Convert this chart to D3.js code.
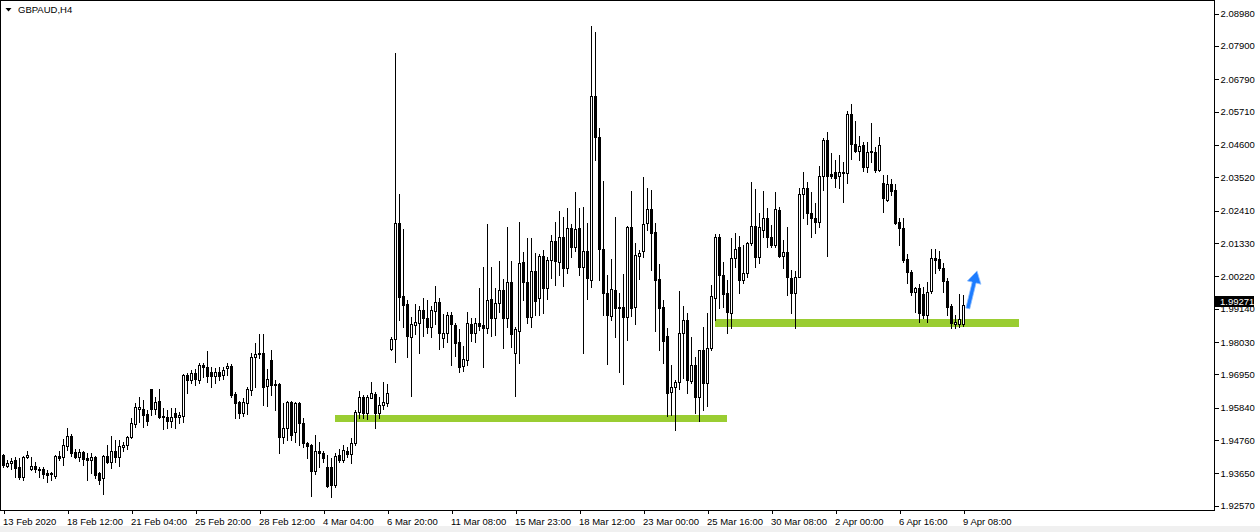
<!DOCTYPE html>
<html>
<head>
<meta charset="utf-8">
<script src="https://cdnjs.cloudflare.com/ajax/libs/d3/7.8.5/d3.min.js"></script>
<style>
  body { margin: 0; background: #fff; }
  svg text { font-family: "Liberation Sans", Arial, sans-serif; }
</style>
</head>
<body>
<div class="canvas"></div>
<script>
// chart title (top left corner)
const symbol = 'GBPAUD,H4';

// H4 candles, one entry per bar
const open = [
  1.9426,1.9390,1.9400,1.9410,1.9386,1.9353,1.9420,1.9380,1.9390,1.9380,
  1.9380,1.9366,1.9366,1.9356,1.9423,1.9420,1.9456,1.9490,1.9436,1.9420,
  1.9436,1.9416,1.9410,1.9420,1.9366,1.9350,1.9423,1.9403,1.9440,1.9420,
  1.9453,1.9460,1.9486,1.9530,1.9580,1.9580,1.9563,1.9646,1.9580,1.9606,
  1.9556,1.9553,1.9540,1.9566,1.9553,1.9556,1.9693,1.9676,1.9700,1.9676,
  1.9726,1.9720,1.9703,1.9690,1.9703,1.9693,1.9716,1.9723,1.9630,1.9603,
  1.9566,1.9600,1.9643,1.9753,1.9766,1.9766,1.9656,1.9743,1.9663,1.9663,
  1.9486,1.9516,1.9603,1.9503,1.9600,1.9533,1.9466,1.9460,1.9373,1.9440,
  1.9433,1.9386,1.9386,1.9326,1.9426,1.9410,1.9440,1.9430,1.9466,1.9570,
  1.9620,1.9566,1.9616,1.9630,1.9566,1.9593,1.9600,1.9780,1.9813,2.0200,
  1.9956,1.9930,1.9820,1.9860,1.9866,1.9910,1.9883,1.9853,1.9906,1.9936,
  1.9816,1.9833,1.9893,1.9860,1.9803,1.9723,1.9743,1.9863,1.9833,1.9866,
  1.9860,1.9850,1.9946,1.9883,1.9933,1.9976,1.9883,2.0003,1.9766,1.9840,
  2.0070,2.0003,1.9886,2.0040,1.9950,2.0090,1.9983,2.0076,2.0140,2.0070,
  2.0153,2.0050,2.0183,2.0120,2.0183,2.0053,2.0106,2.0010,2.0623,2.0486,
  2.0113,1.9966,1.9890,1.9976,1.9920,1.9920,1.9886,2.0186,1.9920,2.0090,
  2.0106,2.0200,2.0246,2.0170,2.0013,1.9920,1.9823,1.9636,1.9653,1.9670,
  1.9833,1.9876,1.9673,1.9726,1.9620,1.9776,1.9666,1.9783,1.9950,2.0153,
  2.0026,1.9966,1.9900,2.0083,2.0120,2.0010,2.0033,2.0133,2.0190,2.0086,
  2.0176,2.0216,2.0153,2.0126,2.0243,2.0090,2.0103,2.0016,1.9966,2.0020,
  2.0296,2.0316,2.0233,2.0216,2.0203,2.0356,2.0476,2.0363,2.0370,2.0356,
  2.0366,2.0366,2.0563,2.0463,2.0440,2.0460,2.0386,2.0436,2.0436,2.0376,
  2.0333,2.0276,2.0330,2.0310,2.0203,2.0183,2.0080,2.0036,1.9970,1.9983,
  1.9963,1.9893,1.9973,2.0083,2.0080,2.0050,2.0006,1.9923,1.9863,1.9863,
  1.9863
];
const high = [
  1.9430,1.9410,1.9416,1.9420,1.9416,1.9423,1.9440,1.9420,1.9403,1.9386,
  1.9386,1.9376,1.9370,1.9426,1.9440,1.9480,1.9516,1.9496,1.9446,1.9446,
  1.9440,1.9433,1.9433,1.9423,1.9370,1.9426,1.9460,1.9490,1.9476,1.9476,
  1.9470,1.9490,1.9550,1.9600,1.9620,1.9610,1.9576,1.9646,1.9620,1.9646,
  1.9583,1.9576,1.9583,1.9583,1.9570,1.9696,1.9700,1.9710,1.9713,1.9733,
  1.9733,1.9773,1.9720,1.9716,1.9720,1.9720,1.9733,1.9730,1.9636,1.9606,
  1.9616,1.9653,1.9766,1.9800,1.9830,1.9830,1.9713,1.9776,1.9676,1.9666,
  1.9600,1.9606,1.9606,1.9603,1.9603,1.9550,1.9470,1.9463,1.9493,1.9470,
  1.9440,1.9426,1.9416,1.9433,1.9446,1.9460,1.9453,1.9483,1.9576,1.9640,
  1.9626,1.9626,1.9670,1.9636,1.9620,1.9670,1.9663,1.9820,2.0766,2.0296,
  2.0180,1.9943,1.9886,1.9930,1.9923,1.9950,1.9943,1.9923,1.9990,1.9950,
  1.9896,1.9903,1.9903,1.9866,1.9846,1.9790,1.9903,1.9883,1.9883,1.9983,
  2.0053,2.0196,2.0053,1.9983,2.0073,2.0013,2.0186,2.0073,1.9853,2.0203,
  2.0103,2.0150,2.0150,2.0100,2.0096,2.0110,2.0086,2.0160,2.0203,2.0240,
  2.0220,2.0250,2.0196,2.0303,2.0250,2.0253,2.0200,2.0856,2.0836,2.0516,
  2.0340,2.0026,2.0080,2.0220,1.9966,2.0030,2.0190,2.0306,2.0133,2.0110,
  2.0353,2.0316,2.0310,2.0200,2.0063,1.9943,1.9850,1.9726,1.9676,1.9973,
  1.9923,1.9900,1.9820,1.9753,1.9776,1.9853,1.9900,1.9993,2.0163,2.0163,
  2.0070,2.0010,2.0150,2.0166,2.0156,2.0126,2.0136,2.0336,2.0313,2.0233,
  2.0306,2.0250,2.0193,2.0303,2.0253,2.0143,2.0186,2.0043,2.0040,2.0316,
  2.0370,2.0336,2.0303,2.0266,2.0390,2.0483,2.0503,2.0433,2.0410,2.0426,
  2.0403,2.0573,2.0596,2.0540,2.0490,2.0470,2.0470,2.0533,2.0453,2.0486,
  2.0360,2.0360,2.0346,2.0330,2.0216,2.0216,2.0096,2.0043,1.9986,1.9996,
  1.9986,2.0003,2.0113,2.0113,2.0106,2.0066,2.0016,1.9930,1.9893,1.9963,
  1.9960
];
const low = [
  1.9386,1.9386,1.9380,1.9353,1.9346,1.9343,1.9416,1.9376,1.9370,1.9353,
  1.9350,1.9336,1.9343,1.9350,1.9410,1.9393,1.9443,1.9423,1.9416,1.9406,
  1.9393,1.9343,1.9366,1.9350,1.9330,1.9296,1.9400,1.9383,1.9403,1.9390,
  1.9440,1.9446,1.9483,1.9520,1.9536,1.9520,1.9526,1.9560,1.9563,1.9550,
  1.9513,1.9516,1.9520,1.9516,1.9533,1.9536,1.9633,1.9666,1.9660,1.9666,
  1.9686,1.9670,1.9653,1.9666,1.9676,1.9680,1.9693,1.9620,1.9550,1.9550,
  1.9556,1.9563,1.9626,1.9653,1.9750,1.9593,1.9590,1.9626,1.9576,1.9433,
  1.9466,1.9476,1.9476,1.9470,1.9460,1.9453,1.9416,1.9290,1.9363,1.9386,
  1.9403,1.9320,1.9286,1.9320,1.9403,1.9403,1.9420,1.9400,1.9460,1.9550,
  1.9550,1.9546,1.9616,1.9516,1.9550,1.9580,1.9590,1.9776,1.9736,1.9876,
  1.9853,1.9753,1.9623,1.9830,1.9766,1.9823,1.9833,1.9820,1.9863,1.9780,
  1.9786,1.9803,1.9726,1.9756,1.9703,1.9706,1.9726,1.9806,1.9803,1.9843,
  1.9720,1.9833,1.9823,1.9826,1.9903,1.9783,1.9853,1.9786,1.9623,1.9733,
  1.9943,1.9866,1.9853,1.9893,1.9893,1.9900,1.9946,2.0016,1.9993,2.0026,
  1.9990,2.0033,2.0086,2.0106,2.0026,1.9766,1.9946,1.9986,2.0410,2.0010,
  1.9893,1.9730,1.9876,1.9820,1.9703,1.9663,1.9810,1.9890,1.9863,2.0013,
  2.0086,2.0176,2.0043,1.9840,1.9776,1.9733,1.9556,1.9560,1.9510,1.9646,
  1.9683,1.9633,1.9666,1.9566,1.9540,1.9576,1.9590,1.9776,1.9876,1.9916,
  1.9920,1.9833,1.9850,2.0053,1.9966,2.0000,2.0020,2.0126,2.0053,2.0066,
  2.0153,2.0120,2.0120,2.0120,2.0086,2.0050,1.9960,1.9900,1.9850,2.0020,
  2.0216,2.0196,2.0153,2.0166,2.0186,2.0310,2.0090,2.0350,2.0320,2.0316,
  2.0270,2.0333,2.0413,2.0436,2.0410,2.0373,2.0370,2.0403,2.0370,2.0373,
  2.0236,2.0273,2.0293,2.0196,2.0126,2.0070,2.0000,1.9960,1.9903,1.9870,
  1.9883,1.9870,1.9966,2.0033,2.0043,1.9970,1.9893,1.9850,1.9850,1.9853,
  1.9856
];
const close = [
  1.9393,1.9400,1.9406,1.9383,1.9353,1.9420,1.9426,1.9390,1.9380,1.9376,
  1.9363,1.9360,1.9363,1.9423,1.9416,1.9460,1.9490,1.9433,1.9420,1.9436,
  1.9413,1.9410,1.9420,1.9360,1.9343,1.9423,1.9403,1.9440,1.9420,1.9456,
  1.9460,1.9486,1.9533,1.9586,1.9586,1.9560,1.9540,1.9580,1.9603,1.9553,
  1.9553,1.9540,1.9553,1.9553,1.9560,1.9693,1.9676,1.9700,1.9680,1.9726,
  1.9720,1.9690,1.9690,1.9703,1.9690,1.9710,1.9723,1.9626,1.9600,1.9566,
  1.9603,1.9646,1.9753,1.9763,1.9763,1.9653,1.9680,1.9660,1.9660,1.9486,
  1.9516,1.9603,1.9493,1.9600,1.9533,1.9466,1.9456,1.9373,1.9440,1.9433,
  1.9416,1.9323,1.9326,1.9423,1.9410,1.9443,1.9430,1.9466,1.9570,1.9620,
  1.9566,1.9620,1.9633,1.9566,1.9593,1.9603,1.9633,1.9813,2.0200,1.9953,
  1.9926,1.9823,1.9863,1.9870,1.9910,1.9883,1.9853,1.9910,1.9936,1.9833,
  1.9833,1.9893,1.9863,1.9800,1.9720,1.9746,1.9866,1.9833,1.9866,1.9856,
  1.9850,1.9943,1.9883,1.9933,1.9976,1.9883,2.0003,1.9830,1.9846,2.0066,
  2.0003,1.9886,2.0040,1.9940,2.0090,1.9983,2.0076,2.0140,2.0073,2.0153,
  2.0050,2.0183,2.0120,2.0180,2.0053,2.0106,2.0016,2.0623,2.0486,2.0113,
  1.9966,1.9893,1.9980,1.9916,1.9916,1.9886,2.0186,1.9916,2.0093,2.0100,
  2.0196,2.0246,2.0166,2.0010,1.9916,1.9806,1.9633,1.9653,1.9670,1.9833,
  1.9876,1.9676,1.9726,1.9620,1.9776,1.9666,1.9783,1.9956,2.0153,2.0026,
  1.9963,1.9903,2.0083,2.0113,2.0010,2.0033,2.0133,2.0190,2.0086,2.0186,
  2.0216,2.0153,2.0126,2.0246,2.0090,2.0103,2.0020,1.9966,2.0020,2.0296,
  2.0316,2.0233,2.0216,2.0203,2.0356,2.0476,2.0356,2.0356,2.0350,2.0370,
  2.0370,2.0563,2.0463,2.0440,2.0456,2.0386,2.0436,2.0438,2.0376,2.0460,
  2.0283,2.0330,2.0306,2.0200,2.0183,2.0076,2.0036,1.9970,1.9983,1.9900,
  1.9893,1.9970,2.0083,2.0076,2.0050,2.0006,1.9920,1.9866,1.9870,1.9880,
  1.99271
];

// time axis: a label every 16 bars
const timeTickBars = [0,16,32,48,64,80,96,112,128,144,160,176,192,208,224,240];
const timeLabels = ['13 Feb 2020','18 Feb 12:00','21 Feb 04:00','25 Feb 20:00','28 Feb 12:00',
  '4 Mar 04:00','6 Mar 20:00','11 Mar 08:00','15 Mar 23:00','18 Mar 12:00','23 Mar 00:00',
  '25 Mar 16:00','30 Mar 08:00','2 Apr 00:00','6 Apr 16:00','9 Apr 08:00'];

// price axis labels
const priceTicks = [2.08980,2.07900,2.06790,2.05710,2.04600,2.03520,2.02410,2.01330,
  2.00220,1.99140,1.98030,1.96950,1.95840,1.94760,1.93650,1.92570];
const lastPrice = 1.99271;

// green support zones (price band + first/last bar)
const zoneTop = [1.9560, 1.9880];
const zoneBottom = [1.9536, 1.9853];
const zoneFrom = [83, 178];
const zoneTo = [181, 254];

// blue arrow: tail and tip (bar index, price)
const arrowTail = [241.2, 1.9915];
const arrowTip = [243.5, 2.0040];

const width = 1260;
const height = 532;
const plotRight = 1214;   // price axis line
const plotBottom = 510;   // time axis line

const svg = d3.select('.canvas')
              .append('svg')
              .attr('width', width)
              .attr('height', height)
              .style('display', 'block');

// scales: one bar every 4px
const x = d3.scaleLinear().domain([0, 240]).range([3, 963]);
const y = d3.scaleLinear().domain([1.9257, 2.0898]).range([505.8, 13.5]);

// grey strip under the chart window
svg.append('rect')
   .attr('x', 0).attr('y', 526)
   .attr('width', width).attr('height', height - 526)
   .attr('fill', '#f0f0f0');

// support zones go under the candles
svg.append('g')
   .selectAll('rect')
   .data(zoneTop)
   .enter()
   .append('rect')
     .attr('x', (d, i) => x(zoneFrom[i]))
     .attr('y', d => Math.round(y(d)))
     .attr('width', (d, i) => x(zoneTo[i]) - x(zoneFrom[i]))
     .attr('height', (d, i) => Math.round(y(zoneBottom[i])) - Math.round(y(d)))
     .attr('fill', '#9acd32');

// candles
const bars = d3.range(open.length);
const candles = svg.append('g').attr('shape-rendering', 'crispEdges');

const py = v => Math.round(y(v));

// wicks
candles.selectAll('.wick')
       .data(bars)
       .enter()
       .append('rect')
         .attr('class', 'wick')
         .attr('x', i => Math.round(x(i)))
         .attr('y', i => py(high[i]))
         .attr('width', 1)
         .attr('height', i => py(low[i]) - py(high[i]) + 1)
         .attr('fill', '#000');

// bodies (black outline for all, white inside for up bars)
candles.selectAll('.body')
       .data(bars)
       .enter()
       .append('rect')
         .attr('class', 'body')
         .attr('x', i => Math.round(x(i)) - 1)
         .attr('y', i => py(Math.max(open[i], close[i])))
         .attr('width', 3)
         .attr('height', i => py(Math.min(open[i], close[i])) - py(Math.max(open[i], close[i])) + 1)
         .attr('fill', '#000');

candles.selectAll('.hollow')
       .data(bars.filter(i => close[i] > open[i] && py(open[i]) - py(close[i]) > 1))
       .enter()
       .append('rect')
         .attr('class', 'hollow')
         .attr('x', i => Math.round(x(i)))
         .attr('y', i => py(close[i]) + 1)
         .attr('width', 1)
         .attr('height', i => py(open[i]) - py(close[i]) - 1)
         .attr('fill', '#fff');

// blue arrow
const ax0 = x(arrowTail[0]), ay0 = y(arrowTail[1]);
const ax1 = x(arrowTip[0]), ay1 = y(arrowTip[1]);
const len = Math.hypot(ax1 - ax0, ay1 - ay0);
const ux = (ax1 - ax0) / len, uy = (ay1 - ay0) / len;
const nx = -uy, ny = ux;
const headLen = 12, headW = 7, shaftW = 2;
const bx = ax1 - ux * headLen, by = ay1 - uy * headLen;
const arrowPts = [
  [ax0 + nx * shaftW, ay0 + ny * shaftW],
  [bx + nx * shaftW, by + ny * shaftW],
  [bx + nx * headW, by + ny * headW],
  [ax1, ay1],
  [bx - nx * headW, by - ny * headW],
  [bx - nx * shaftW, by - ny * shaftW],
  [ax0 - nx * shaftW, ay0 - ny * shaftW]
];
const defs = svg.append('defs');
defs.append('filter').attr('id', 'soft')
    .append('feGaussianBlur').attr('stdDeviation', 0.6);
svg.append('polygon')
   .attr('points', arrowPts.map(p => p.join(',')).join(' '))
   .attr('fill', '#1f7bff')
   .attr('stroke', '#8fc0ff')
   .attr('stroke-width', 0.8)
   .attr('filter', 'url(#soft)');

// frame around the plot
svg.append('rect')
   .attr('x', 0.5).attr('y', 0.5)
   .attr('width', plotRight)
   .attr('height', plotBottom)
   .attr('fill', 'none')
   .attr('stroke', '#000')
   .attr('shape-rendering', 'crispEdges');

// price axis
const yAxis = d3.axisRight(y)
                .tickValues(priceTicks)
                .tickSize(4)
                .tickPadding(2)
                .tickFormat(d3.format('.5f'));
const yAxisGroup = svg.append('g')
                      .attr('transform', `translate(${plotRight + 0.5}, 0)`)
                      .call(yAxis);
yAxisGroup.select('.domain').remove();
yAxisGroup.selectAll('line').attr('stroke', '#000').attr('shape-rendering', 'crispEdges');
yAxisGroup.selectAll('text')
          .attr('fill', '#000')
          .style('font-size', '9.5px')
          .style('font-family', '"Liberation Sans", Arial, sans-serif');

// current price box, drawn over the nearest axis label like the terminal does
svg.append('rect')
   .attr('x', plotRight + 1)
   .attr('y', Math.round(y(lastPrice)) - 9)
   .attr('width', 39)
   .attr('height', 11)
   .attr('fill', '#000');
svg.append('text')
   .attr('x', plotRight + 6)
   .attr('y', Math.round(y(lastPrice)) - 0.5)
   .attr('fill', '#fff')
   .style('font-size', '9.5px')
   .text(d3.format('.5f')(lastPrice));

// time axis
const xAxis = d3.axisBottom(x)
                .tickValues(timeTickBars)
                .tickSize(3)
                .tickPadding(5)
                .tickFormat((d, i) => timeLabels[i]);
const xAxisGroup = svg.append('g')
                      .attr('transform', `translate(0.5, ${plotBottom + 0.5})`)
                      .call(xAxis);
xAxisGroup.select('.domain').remove();
xAxisGroup.selectAll('line').attr('stroke', '#000').attr('shape-rendering', 'crispEdges');
xAxisGroup.selectAll('text')
          .attr('text-anchor', 'start')
          .attr('dx', -1)
          .attr('fill', '#000')
          .style('font-size', '9.5px')
          .style('font-family', '"Liberation Sans", Arial, sans-serif');

// title with the little dropdown triangle
svg.append('path')
   .attr('d', 'M5.5,8 L11.5,8 L8.5,11.5 Z')
   .attr('fill', '#000');
svg.append('text')
   .attr('x', 18)
   .attr('y', 13)
   .attr('fill', '#000')
   .style('font-size', '9.5px')
   .text(symbol);
</script>
</body>
</html>
